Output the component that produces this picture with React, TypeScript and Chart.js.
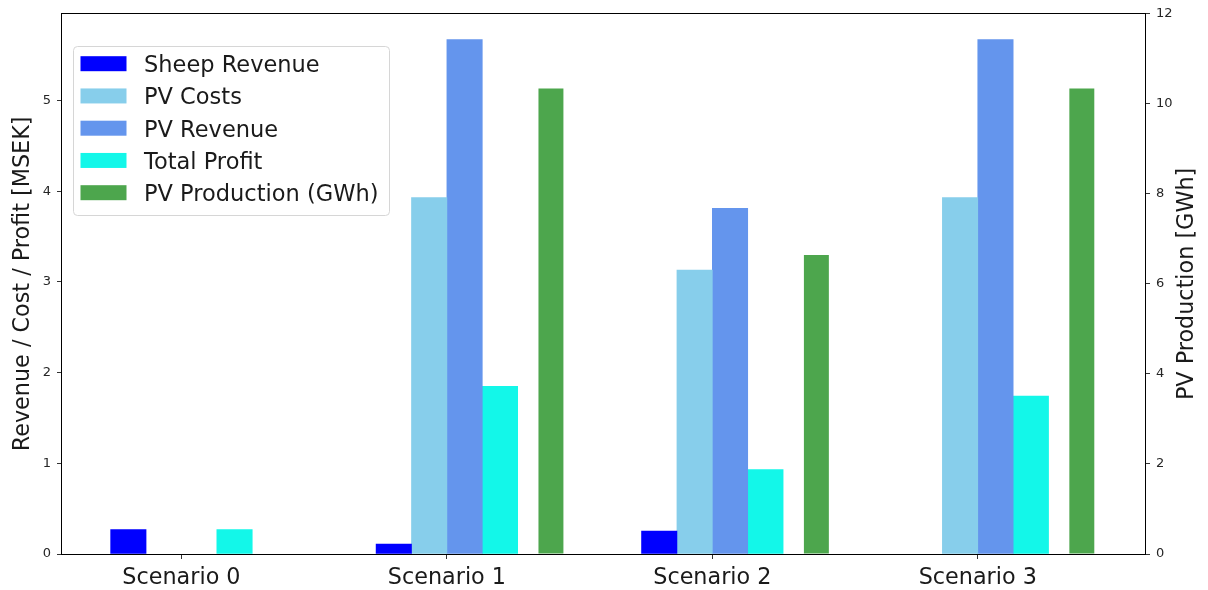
import React, { useEffect, useRef } from "react";
import { Chart, registerables } from "chart.js";

Chart.register(...registerables);

const categories = ["Scenario 0", "Scenario 1", "Scenario 2", "Scenario 3"];
const sheepRevenue = [0.268, 0.11, 0.253, 0];
const pvCosts = [0, 3.93, 3.13, 3.93];
const pvRevenue = [0, 5.67, 3.81, 5.67];
const totalProfit = [0.268, 1.848, 0.93, 1.74];
const pvProduction = [0, 10.34, 6.64, 10.34];

const leftTicks = [0, 1, 2, 3, 4, 5];
const rightTicks = [0, 2, 4, 6, 8, 10, 12];

const seriesNames = ["Sheep Revenue", "PV Costs", "PV Revenue", "Total Profit", "PV Production (GWh)"];
const seriesColors = ["#0000ff", "#87ceeb", "#6495ed", "#13f7e9", "#4da64d"];

const leftTitle = "Revenue / Cost / Profit [MSEK]";
const rightTitle = "PV Production [GWh]";

const BAR_W = 0.4 / 3;
const GREEN_OFFSET = 0.392;
const GREEN_W = 0.094;

const FONT = "'DejaVu Sans', sans-serif";
const BIG = 22.3;

const framePlugin = {
  id: "frameAndTitles",
  afterDraw(chart: any) {
    const { ctx, chartArea } = chart;
    const { left, right, top, bottom } = chartArea;
    ctx.save();
    ctx.strokeStyle = "#000";
    ctx.lineWidth = 1;
    ctx.strokeRect(Math.round(left) - 0.5, Math.round(top) - 0.5, Math.round(right - left) + 1, Math.round(bottom - top) + 1);

    // axis titles
    ctx.fillStyle = "#1a1a1a";
    ctx.font = `${BIG}px ${FONT}`;
    ctx.textAlign = "center";
    ctx.textBaseline = "middle";
    const midY = (top + bottom) / 2;
    ctx.save();
    ctx.translate(23, midY);
    ctx.rotate(-Math.PI / 2);
    ctx.fillText(leftTitle, 0, 0);
    ctx.restore();
    ctx.save();
    ctx.translate(1187, midY);
    ctx.rotate(-Math.PI / 2);
    ctx.fillText(rightTitle, 0, 0);
    ctx.restore();

    // legend
    const lx = 73.5, ly = 46.5, lw = 316, lh = 169;
    ctx.beginPath();
    (ctx as any).roundRect(lx, ly, lw, lh, 4);
    ctx.fillStyle = "rgba(255,255,255,0.8)";
    ctx.fill();
    ctx.strokeStyle = "#d6d6d6";
    ctx.lineWidth = 1;
    ctx.stroke();
    ctx.font = `22.5px ${FONT}`;
    ctx.textAlign = "left";
    ctx.textBaseline = "middle";
    seriesNames.forEach((name, k) => {
      const cy = 63.7 + k * 32.25;
      ctx.fillStyle = seriesColors[k];
      ctx.fillRect(80.5, cy - 7.5, 46, 15);
      ctx.fillStyle = "#1a1a1a";
      ctx.fillText(name, 144, cy + 2.5);
    });
    ctx.restore();
  },
};

export default function App() {
  const ref = useRef<HTMLCanvasElement>(null);

  useEffect(() => {
    if (!ref.current) return;
    const mk = (vals: number[], offset: number) =>
      vals.map((v, i) => ({ x: i + offset, y: v === 0 ? null : v }));

    const leftSeries = [sheepRevenue, pvCosts, pvRevenue, totalProfit];
    const datasets: any[] = leftSeries.map((vals, k) => ({
      label: seriesNames[k],
      data: mk(vals, (k - 1.5) * BAR_W),
      backgroundColor: seriesColors[k],
      borderWidth: 0,
      grouped: false,
      barPercentage: 1,
      categoryPercentage: 1,
      yAxisID: "y",
    }));
    datasets.push({
      label: seriesNames[4],
      data: mk(pvProduction, GREEN_OFFSET),
      backgroundColor: seriesColors[4],
      borderWidth: 0,
      grouped: false,
      barPercentage: GREEN_W / BAR_W,
      categoryPercentage: 1,
      yAxisID: "y2",
    });

    const gridOpts = { display: true, offset: false, drawOnChartArea: false, drawTicks: true, tickLength: 5, color: "#333" };

    const chart = new Chart(ref.current, {
      type: "bar",
      data: { datasets },
      plugins: [framePlugin],
      options: {
        animation: false,
        responsive: false,
        devicePixelRatio: 1,
        layout: { padding: { top: 13, left: 0, right: 0, bottom: 0 } },
        plugins: { legend: { display: false }, tooltip: { enabled: false } },
        scales: {
          x: {
            type: "linear",
            min: -0.45,
            max: 3.63,
            offset: false,
            afterBuildTicks: (s: any) => {
              s.ticks = categories.map((_, i) => ({ value: i }));
            },
            afterFit: (s: any) => {
              s.height = 36;
            },
            ticks: {
              autoSkip: false,
              maxRotation: 0,
              padding: 6,
              color: "#1a1a1a",
              font: { family: FONT, size: BIG },
              callback: (v: any) => categories[Math.round(Number(v))] ?? "",
            },
            grid: gridOpts,
            border: { display: false },
          },
          y: {
            type: "linear",
            position: "left",
            min: 0,
            max: 5.955,
            afterBuildTicks: (s: any) => {
              s.ticks = leftTicks.map((v) => ({ value: v }));
            },
            afterFit: (s: any) => {
              s.width = 62;
            },
            ticks: {
              padding: 6,
              color: "#262626",
              font: { family: FONT, size: 13 },
            },
            grid: gridOpts,
            border: { display: false },
          },
          y2: {
            type: "linear",
            position: "right",
            min: 0,
            max: 12,
            afterBuildTicks: (s: any) => {
              s.ticks = rightTicks.map((v) => ({ value: v }));
            },
            afterFit: (s: any) => {
              s.width = 63;
            },
            ticks: {
              padding: 6,
              color: "#262626",
              font: { family: FONT, size: 13 },
            },
            grid: gridOpts,
            border: { display: false },
          },
        },
      } as any,
    });
    return () => chart.destroy();
  }, []);

  return (
    <div style={{ position: "fixed", left: 0, top: 0, width: 1208, height: 590, background: "#fff" }}>
      <canvas ref={ref} width={1208} height={590} style={{ display: "block" }} />
    </div>
  );
}
